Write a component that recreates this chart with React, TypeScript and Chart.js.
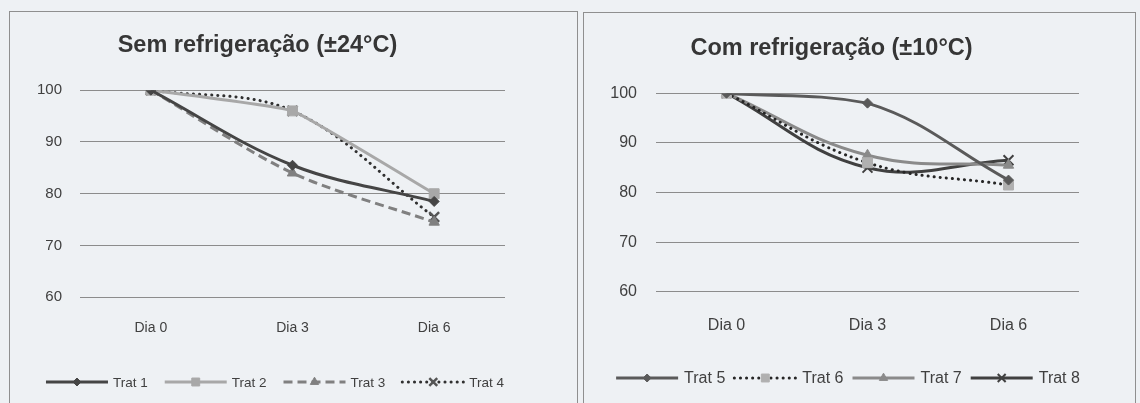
import React, { useEffect, useRef } from "react";
import { Chart, registerables } from "chart.js";
import { drawPoint } from "chart.js/helpers";

Chart.register(...registerables);

const days = ["Dia 0", "Dia 3", "Dia 6"];
const leftTitle = "Sem refrigeração (±24°C)";
const rightTitle = "Com refrigeração (±10°C)";

const trat1 = [100, 85.5, 78.5];
const trat2 = [100, 96, 80];
const trat3 = [100, 84, 74.5];
const trat4 = [100, 96, 75.5];

const trat5 = [100, 98, 82.5];
const trat6 = [100, 86, 81.5];
const trat7 = [100, 87.5, 85.5];
const trat8 = [100, 85, 86.5];

const yMin = 60;
const yMax = 100;
const yStep = 10;

const FONT = "'Liberation Sans', Arial, sans-serif";

const lineLegend = {
  id: "lineLegend",
  afterDraw(chart: any, _args: any, opts: any) {
    const ctx = chart.ctx;
    const ds = chart.data.datasets;
    ctx.save();
    ctx.font = `${opts.fontSize}px ${FONT}`;
    ctx.textBaseline = "middle";
    const sample = opts.sample;
    const widths = ds.map((d: any) => sample + opts.textGap + ctx.measureText(d.label).width);
    const total = widths.reduce((a: number, b: number) => a + b, 0) + opts.itemGap * (ds.length - 1);
    let x = opts.centerX - total / 2;
    const y = opts.y;
    ds.forEach((d: any, i: number) => {
      ctx.save();
      ctx.strokeStyle = d.borderColor;
      ctx.lineWidth = d.borderWidth;
      ctx.lineCap = d.borderCapStyle || "butt";
      ctx.setLineDash(d.borderDash || []);
      ctx.beginPath();
      ctx.moveTo(x, y);
      ctx.lineTo(x + sample, y);
      ctx.stroke();
      ctx.restore();
      ctx.save();
      ctx.fillStyle = d.pointBackgroundColor;
      ctx.strokeStyle = d.pointBorderColor;
      ctx.lineWidth = d.pointBorderWidth;
      ctx.setLineDash([]);
      drawPoint(ctx, { pointStyle: d.pointStyle, radius: d.pointRadius * 0.8, rotation: 0, borderWidth: d.pointBorderWidth }, x + sample / 2, y);
      ctx.restore();
      ctx.fillStyle = "#404040";
      ctx.fillText(d.label, x + sample + opts.textGap, y + 1);
      x += widths[i] + opts.itemGap;
    });
    ctx.restore();
  },
};

function mkDs(label: string, data: number[], style: any) {
  return {
    label,
    data,
    fill: false,
    borderCapStyle: "butt",
    pointBorderWidth: 1,
    ...style,
  };
}

function leftDatasets() {
  return [
    mkDs("Trat 1", trat1, {
      borderColor: "#454545", borderWidth: 3, tension: 0.35,
      pointStyle: "rectRot", pointRadius: 5, pointBackgroundColor: "#454545", pointBorderColor: "#454545",
    }),
    mkDs("Trat 2", trat2, {
      borderColor: "#a8a8a8", borderWidth: 3, tension: 0.1,
      pointStyle: "rect", pointRadius: 7, pointBackgroundColor: "#a8a8a8", pointBorderColor: "#a8a8a8",
    }),
    mkDs("Trat 3", trat3, {
      borderColor: "#808080", borderWidth: 3, tension: 0.3, borderDash: [9, 5],
      pointStyle: "triangle", pointRadius: 6, pointBackgroundColor: "#808080", pointBorderColor: "#808080",
    }),
    mkDs("Trat 4", trat4, {
      borderColor: "#303030", borderWidth: 3, tension: 0.35, borderDash: [0.1, 6], borderCapStyle: "round",
      pointStyle: "crossRot", pointRadius: 7, pointBackgroundColor: "#555555", pointBorderColor: "#555555", pointBorderWidth: 2.5,
    }),
  ];
}

function rightDatasets() {
  return [
    mkDs("Trat 5", trat5, {
      borderColor: "#5a5a5a", borderWidth: 3, tension: 0.4,
      pointStyle: "rectRot", pointRadius: 5, pointBackgroundColor: "#5a5a5a", pointBorderColor: "#5a5a5a",
    }),
    mkDs("Trat 6", trat6, {
      borderColor: "#262626", borderWidth: 3, tension: 0.4, borderDash: [0.1, 6], borderCapStyle: "round",
      pointStyle: "rect", pointRadius: 7, pointBackgroundColor: "#b0b0b0", pointBorderColor: "#b0b0b0",
    }),
    mkDs("Trat 7", trat7, {
      borderColor: "#8a8a8a", borderWidth: 3, tension: 0.4,
      pointStyle: "triangle", pointRadius: 6, pointBackgroundColor: "#8a8a8a", pointBorderColor: "#8a8a8a",
    }),
    mkDs("Trat 8", trat8, {
      borderColor: "#404040", borderWidth: 3, tension: 0.4,
      pointStyle: "crossRot", pointRadius: 7, pointBackgroundColor: "#404040", pointBorderColor: "#404040", pointBorderWidth: 2,
    }),
  ];
}

function makeConfig(p: any) {
  return {
    type: "line",
    data: { labels: days, datasets: p.datasets },
    plugins: [lineLegend],
    options: {
      animation: false,
      responsive: false,
      devicePixelRatio: 1,
      layout: { padding: { left: 0, right: p.padRight, top: 0, bottom: p.padBottom } },
      plugins: {
        legend: { display: false },
        tooltip: { enabled: false },
        title: {
          display: true,
          text: p.title,
          color: "#363636",
          font: { family: FONT, size: 23.5, weight: "bold" },
          padding: { top: p.titleTop, bottom: p.titleBottom },
        },
        lineLegend: p.legend,
      },
      scales: {
        x: {
          offset: true,
          grid: { display: false, drawTicks: false },
          border: { display: false },
          ticks: { color: "#404040", font: { family: FONT, size: p.xFont }, padding: p.xPad },
        },
        y: {
          min: yMin,
          max: yMax,
          ticks: { stepSize: yStep, color: "#404040", font: { family: FONT, size: p.yFont }, padding: p.yPad },
          grid: { color: "#8c8c8c", lineWidth: 1, drawTicks: false },
          border: { display: false },
          afterFit: (s: any) => { s.width = p.yWidth; },
        },
      },
    },
  };
}

function Panel(props: any) {
  const ref = useRef<HTMLCanvasElement>(null);
  useEffect(() => {
    const chart = new Chart(ref.current as any, makeConfig(props.cfg) as any);
    return () => chart.destroy();
  }, []);
  return (
    <div style={{ position: "absolute", left: props.left, top: props.top, width: props.w, height: props.h, border: "1px solid #8f8f8f", boxSizing: "border-box", background: "#eef1f4" }}>
      <canvas ref={ref} width={props.w - 2} height={props.h - 1} style={{ display: "block", width: props.w - 2, height: props.h - 1 }} />
    </div>
  );
}

export default function App() {
  useEffect(() => {
    document.body.style.margin = "0";
    document.body.style.background = "#eef1f4";
  }, []);
  const left = {
    datasets: leftDatasets(), title: leftTitle, padRight: 72, padBottom: 45, titleTop: 19, titleBottom: 31,
    xFont: 14, yFont: 15, xPad: 23, yPad: 18, yWidth: 70,
    legend: { y: 370, centerX: 265, fontSize: 13.5, sample: 62, textGap: 5, itemGap: 17 },
  };
  const right = {
    datasets: rightDatasets(), title: rightTitle, padRight: 56, padBottom: 46, titleTop: 21, titleBottom: 31,
    xFont: 16, yFont: 16, xPad: 24, yPad: 19, yWidth: 72,
    legend: { y: 365, centerX: 264, fontSize: 16, sample: 62, textGap: 6, itemGap: 9 },
  };
  return (
    <div style={{ position: "relative", width: 1140, height: 403, background: "#eef1f4", overflow: "hidden" }}>
      <Panel left={9} top={11} w={569} h={394} cfg={left} />
      <Panel left={583} top={12} w={553} h={393} cfg={right} />
    </div>
  );
}
